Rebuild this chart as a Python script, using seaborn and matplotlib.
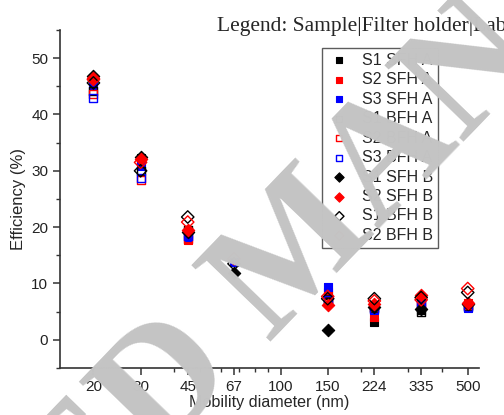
import numpy as np
import pandas as pd
import matplotlib
matplotlib.use('Agg')
import matplotlib.pyplot as plt
from matplotlib.ticker import FixedLocator, LogLocator, NullFormatter, FixedFormatter
import seaborn as sns

# mobility diameters (nm)
diameters = [20, 30, 45, 67, 100, 150, 224, 335, 500]
nan = np.nan

# efficiency (%) per sample | filter holder | lab
s1_sfh_a = [46.5, 32.2, 18.8, nan, nan, 8.0, 3.1, 5.3, 6.2]
s2_sfh_a = [46.0, 31.8, 17.7, nan, nan, 8.5, 4.1, 6.8, 6.6]
s3_sfh_a = [45.2, 30.8, 18.3, 13.8, nan, 9.4, 5.3, 6.2, 5.7]
s1_bfh_a = [44.2, 30.0, 19.5, nan, nan, 7.2, 5.6, 5.0, 6.0]
s2_bfh_a = [43.6, 28.3, 17.9, nan, nan, 7.0, 5.8, 6.5, 6.2]
s3_bfh_a = [43.0, 28.8, 18.5, nan, nan, 7.0, 5.5, 6.3, 5.8]
s1_sfh_b = [46.9, 32.4, 19.2, 11.8, nan, 1.7, 5.8, 5.5, 6.4]
s2_sfh_b = [46.4, 32.1, 19.5, nan, nan, 6.2, 6.3, 8.0, 6.6]
s1_bfh_b = [45.6, 30.0, 21.8, 13.5, nan, 7.3, 7.3, 7.5, 8.4]
s2_bfh_b = [46.2, 31.5, 20.9, 14.4, nan, 7.7, 6.9, 7.1, 9.1]

series = [
    ('S1 SFH A', s1_sfh_a, 's', 'black', True),
    ('S2 SFH A', s2_sfh_a, 's', 'red', True),
    ('S3 SFH A', s3_sfh_a, 's', 'blue', True),
    ('S1 BFH A', s1_bfh_a, 's', 'black', False),
    ('S2 BFH A', s2_bfh_a, 's', 'red', False),
    ('S3 BFH A', s3_bfh_a, 's', 'blue', False),
    ('S1 SFH B', s1_sfh_b, 'D', 'black', True),
    ('S2 SFH B', s2_sfh_b, 'D', 'red', True),
    ('S1 BFH B', s1_bfh_b, 'D', 'black', False),
    ('S2 BFH B', s2_bfh_b, 'D', 'red', False),
]

sns.set_style('ticks')
plt.rcParams['font.family'] = ['Liberation Sans', 'DejaVu Sans']
plt.rcParams['font.size'] = 11

fig = plt.figure(figsize=(5.04, 4.15), dpi=100)
ax = fig.add_axes([0.119, 0.1133, 0.831, 0.8145])

handles = []
for label, vals, mk, col, filled in series:
    df = pd.DataFrame({'d': diameters, 'eff': vals}).dropna()
    size = 34 if mk == 's' else 40
    if filled:
        sns.scatterplot(data=df, x='d', y='eff', marker=mk, color=col,
                        edgecolor=col, linewidth=0.8, s=size, ax=ax)
    else:
        sns.scatterplot(data=df, x='d', y='eff', marker=mk, facecolor='none',
                        edgecolor=col, linewidth=1.0, s=size, ax=ax)
    handles.append(ax.collections[-1])

ax.set_xscale('log')
ax.set_xlim(15, 550)
ax.set_ylim(-5, 55)
ax.xaxis.set_major_locator(FixedLocator(diameters))
ax.xaxis.set_major_formatter(FixedFormatter([str(d) for d in diameters]))
ax.xaxis.set_minor_locator(LogLocator(base=10, subs=np.arange(2, 10)))
ax.xaxis.set_minor_formatter(NullFormatter())
ax.set_yticks([0, 10, 20, 30, 40, 50])
ax.set_yticks(np.arange(-5, 56, 10), minor=True)

sns.despine(ax=ax)
for sp in ['left', 'bottom']:
    ax.spines[sp].set_color('#333333')
    ax.spines[sp].set_linewidth(1.2)
ax.tick_params(which='major', direction='out', length=5, width=1.1, color='#333333',
               labelsize=11, labelcolor='#222222')
ax.tick_params(which='minor', direction='out', length=3, width=1.0, color='#333333')

ax.set_xlabel('Mobility diameter (nm)', fontsize=11.6, labelpad=1)
ax.set_ylabel('Efficiency (%)', fontsize=12, labelpad=4)

leg = ax.legend(handles, [s[0] for s in series], loc='upper left',
                bbox_to_anchor=(0.625, 0.947), borderaxespad=0, frameon=True,
                fancybox=False, edgecolor='#333333', fontsize=11.5,
                markerscale=0.75, handletextpad=0.6, labelspacing=0.28,
                borderpad=0.3, handlelength=1.6)
leg.get_frame().set_linewidth(1.0)

fig.text(217 / 504, 1 - 31 / 415, 'Legend: Sample|Filter holder|Lab',
         family=['Liberation Serif', 'DejaVu Serif'], fontsize=15.5,
         ha='left', va='baseline')

# diagonal watermark drawn over everything
fig.text(300 / 504, 1 - 254 / 415, 'ACCEPTED MANUSCRIPT', fontsize=120,
         family=['Liberation Serif', 'DejaVu Serif'], fontweight='bold',
         color='#c4c4c4', rotation=46, rotation_mode='anchor',
         ha='center', va='center', zorder=100)

fig.savefig('out.png', dpi=100)
